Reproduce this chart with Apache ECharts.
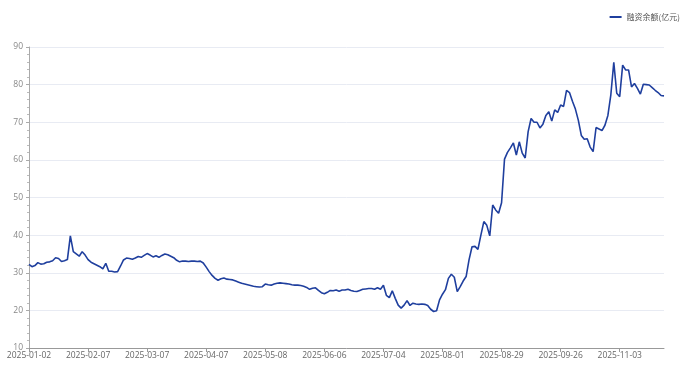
<!DOCTYPE html>
<html>
<head>
<meta charset="utf-8">
<script src="https://cdn.jsdelivr.net/npm/echarts@6/dist/echarts.min.js"></script>
<style>html,body{margin:0;padding:0;background:#fff;}#c{width:691px;height:369px;}</style>
</head>
<body>
<div id="c"></div>
<script>
// Trading days (China A-share, 2025), by month
const tradingDays = [
  ['01', [2,3,6,7,8,9,10,13,14,15,16,17,20,21,22,23,24,27]],
  ['02', [5,6,7,10,11,12,13,14,17,18,19,20,21,24,25,26,27,28]],
  ['03', [3,4,5,6,7,10,11,12,13,14,17,18,19,20,21,24,25,26,27,28,31]],
  ['04', [1,2,3,7,8,9,10,11,14,15,16,17,18,21,22,23,24,25,28,29,30]],
  ['05', [6,7,8,9,12,13,14,15,16,19,20,21,22,23,26,27,28,29,30]],
  ['06', [3,4,5,6,9,10,11,12,13,16,17,18,19,20,23,24,25,26,27,30]],
  ['07', [1,2,3,4,7,8,9,10,11,14,15,16,17,18,21,22,23,24,25,28,29,30,31]],
  ['08', [1,4,5,6,7,8,11,12,13,14,15,18,19,20,21,22,25,26,27,28,29]],
  ['09', [1,2,3,4,5,8,9,10,11,12,15,16,17,18,19,22,23,24,25,26,29,30]],
  ['10', [9,10,13,14,15,16,17,20,21,22,23,24,27,28,29,30,31]],
  ['11', [3,4,5,6,7,10,11,12,13,14,17,18,19,20,21,24]]
];
const categories = [];
tradingDays.forEach(([m, days]) => days.forEach(d => categories.push('2025-' + m + '-' + String(d).padStart(2,'0'))));

const seriesName = '融资余额(亿元)';
const values = [
  32.2,31.6,31.9,32.7,32.3,32.4,32.8,32.9,33.2,34.0,
  33.8,33.0,33.2,33.5,39.8,35.6,35.0,34.4,35.6,34.7,
  33.5,32.8,32.4,32.0,31.6,31.0,32.5,30.4,30.4,30.2,
  30.3,31.8,33.4,33.9,33.8,33.6,33.9,34.3,34.1,34.6,
  35.1,34.7,34.2,34.5,34.1,34.6,35.0,34.8,34.4,34.0,
  33.3,32.9,33.1,33.1,33.0,33.1,33.1,33.0,33.1,32.6,
  31.5,30.3,29.3,28.5,28.0,28.4,28.6,28.3,28.2,28.1,
  27.8,27.5,27.2,27.0,26.8,26.6,26.4,26.3,26.2,26.3,
  27.0,26.8,26.7,27.0,27.2,27.3,27.2,27.1,27.0,26.8,
  26.7,26.7,26.6,26.4,26.1,25.6,25.9,26.0,25.3,24.7,
  24.4,24.8,25.3,25.2,25.4,25.1,25.4,25.4,25.6,25.3,
  25.1,25.0,25.3,25.6,25.7,25.8,25.8,25.6,26.0,25.6,
  26.7,24.0,23.4,25.2,23.2,21.4,20.6,21.4,22.6,21.3,
  21.9,21.7,21.6,21.7,21.6,21.3,20.3,19.7,19.9,22.8,
  24.3,25.5,28.5,29.6,28.8,25.0,26.3,27.8,29.0,33.5,
  36.9,37.0,36.2,40.0,43.6,42.6,39.8,48.0,46.7,45.8,
  48.6,60.2,62.0,63.2,64.5,61.3,64.8,61.8,60.5,67.5,
  71.0,70.0,70.0,68.5,69.5,71.8,72.8,70.3,73.3,72.6,
  74.6,74.2,78.5,77.9,75.6,73.5,70.5,66.5,65.5,65.6,
  63.4,62.2,68.6,68.2,67.8,69.2,71.8,77.3,85.9,77.7,
  76.8,85.2,83.9,83.9,79.4,80.3,79.0,77.5,80.1,80.0,
  79.9,79.2,78.5,77.9,77.1,77.0
];
const yMin = 10, yMax = 90, yStep = 10;

const chart = echarts.init(document.getElementById('c'), null, {renderer: 'canvas'});
chart.setOption({
  animation: false,
  backgroundColor: '#fff',
  textStyle: {fontFamily: '"Noto Sans CJK SC", "Noto Sans", sans-serif'},
  legend: {
    data: [{name: seriesName, icon: 'rect'}],
    right: 6, top: 8,
    itemWidth: 12, itemHeight: 2, itemGap: 6,
    itemStyle: {color: '#1f3f9e'},
    textStyle: {fontSize: 8, color: '#555'}
  },
  grid: {left: 29, right: 27, top: 47, bottom: 21},
  xAxis: {
    type: 'category',
    data: categories,
    boundaryGap: false,
    axisLine: {lineStyle: {color: '#999'}},
    axisTick: {interval: 19, length: 4, lineStyle: {color: '#999'}},
    axisLabel: {interval: 19, fontSize: 8.5, color: '#666', margin: 3, fontFamily: 'Open Sans, sans-serif'},
    splitLine: {show: false}
  },
  yAxis: {
    type: 'value',
    min: yMin, max: yMax, interval: yStep,
    axisLine: {show: true, lineStyle: {color: '#aaa'}},
    axisTick: {show: true, length: 3, lineStyle: {color: '#aaa'}},
    minorTick: {show: true, splitNumber: 5, length: 2, lineStyle: {color: '#bbb'}},
    axisLabel: {fontSize: 8.5, color: '#888', margin: 6, fontFamily: 'Open Sans, sans-serif'},
    splitLine: {show: true, lineStyle: {color: '#e8ebf3', width: 1}}
  },
  series: [{
    name: seriesName,
    type: 'line',
    data: values,
    symbol: 'none',
    lineStyle: {color: '#1f3f9e', width: 1.6},
    itemStyle: {color: '#1f3f9e'}
  }]
});
</script>
</body>
</html>
